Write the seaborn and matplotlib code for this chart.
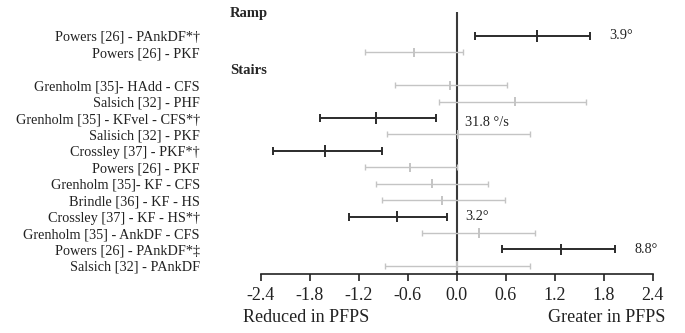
import numpy as np
import pandas as pd
import matplotlib
matplotlib.use("Agg")
import matplotlib.pyplot as plt
import seaborn as sns

# ---- data ----
labels = [
    "Powers [26] - PAnkDF*\u2020",
    "Powers [26] - PKF",
    "Grenholm [35]- HAdd - CFS",
    "Salsich [32] - PHF",
    "Grenholm [35] - KFvel - CFS*\u2020",
    "Salisich [32] - PKF",
    "Crossley [37] - PKF*\u2020",
    "Powers [26] - PKF",
    "Grenholm [35]- KF - CFS",
    "Brindle [36] - KF - HS",
    "Crossley [37] - KF - HS*\u2020",
    "Grenholm [35] - AnkDF - CFS",
    "Powers [26] - PAnkDF*\u2021",
    "Salsich [32] - PAnkDF",
]
group = ["Ramp"] * 2 + ["Stairs"] * 12
effect = [0.98, -0.53, -0.08, 0.71, -0.99, 0.01, -1.61, -0.57, -0.31, -0.18, -0.73, 0.27, 1.27, 0.0]
ci_low = [0.22, -1.13, -0.76, -0.22, -1.68, -0.86, -2.25, -1.12, -0.99, -0.92, -1.32, -0.43, 0.55, -0.88]
ci_high = [1.63, 0.08, 0.61, 1.58, -0.26, 0.89, -0.92, 0.0, 0.38, 0.59, -0.12, 0.96, 1.94, 0.89]
significant = [True, False, False, False, True, False, True, False, False, False, True, False, True, False]
notes = {0: "3.9\u00b0", 4: "31.8 \u00b0/s", 10: "3.2\u00b0", 12: "8.8\u00b0"}
xticks = [-2.4, -1.8, -1.2, -0.6, 0.0, 0.6, 1.2, 1.8, 2.4]

sns.set_theme(style="white")
plt.rcParams["font.family"] = ["Liberation Serif", "DejaVu Serif"]

df = pd.DataFrame({
    "label": labels,
    "group": group,
    "effect": effect,
    "low": ci_low,
    "high": ci_high,
    "sig": significant,
})
# leave one empty slot between the Ramp and Stairs blocks for the header
df["pos"] = [i if g == "Ramp" else i + 1 for i, g in enumerate(df["group"])]

DARK = "#2b2b2b"
LIGHT = "#c4c4c4"

fig = plt.figure(figsize=(6.85, 3.33), dpi=100)
ax = fig.add_axes([0.381, 0.177, 0.572, 0.787])

ax.axvline(0, color="#3a3a3a", linewidth=1.5, zorder=1)

for sig, color, lw, cap in [(False, LIGHT, 1.0, 2.0), (True, DARK, 1.4, 2.8)]:
    sub = df[df["sig"] == sig]
    ax.errorbar(
        sub["effect"],
        sub["pos"],
        xerr=[sub["effect"] - sub["low"], sub["high"] - sub["effect"]],
        fmt="none",
        ecolor=color,
        elinewidth=lw,
        capsize=cap,
        capthick=lw,
        zorder=2,
    )

sns.scatterplot(
    data=df,
    x="effect",
    y="pos",
    hue="sig",
    palette={True: DARK, False: LIGHT},
    size="sig",
    sizes={True: 70, False: 45},
    marker="|",
    linewidth=1.4,
    legend=False,
    ax=ax,
    zorder=3,
)

for idx, txt in notes.items():
    row = df.loc[idx]
    if row["effect"] > 0:
        ax.text(row["high"] + 0.24, row["pos"], txt, ha="left", va="center", fontsize=10.3, color="#222222")
    else:
        ax.text(0.1, row["pos"] + (0.25 if idx == 4 else 0), txt, ha="left", va="center", fontsize=10.3, color="#222222")

ax.text(-2.78, -1.34, "Ramp", ha="left", va="center", fontsize=10.5, fontweight="bold", clip_on=False)
ax.text(-2.78, 2.13, "Stairs", ha="left", va="center", fontsize=10.5, fontweight="bold", clip_on=False)

ax.set_xlim(-2.4, 2.4)
ax.set_ylim(14.5, -1.46)
ax.set_yticks(df["pos"])
ax.set_yticklabels(df["label"], fontsize=10.3, color="#222222")
ax.tick_params(axis="y", length=0, pad=44)
ax.set_xticks(xticks)
ax.set_xticklabels([f"{t:.1f}" for t in xticks], fontsize=13, color="#222222")
ax.tick_params(axis="x", direction="out", length=5, width=1.2, color="#222222", bottom=True, pad=4)
ax.set_xlabel("")
ax.set_ylabel("")

for side in ["top", "right", "left"]:
    ax.spines[side].set_visible(False)
ax.spines["bottom"].set_color("#222222")
ax.spines["bottom"].set_linewidth(1.2)

fig.text(243 / 685, 1 - 318 / 333, "Reduced in PFPS", ha="left", va="center", fontsize=13, color="#222222")
fig.text(665 / 685, 1 - 318 / 333, "Greater in PFPS", ha="right", va="center", fontsize=13, color="#222222")

fig.savefig("out.png", dpi=100)
plt.close(fig)
